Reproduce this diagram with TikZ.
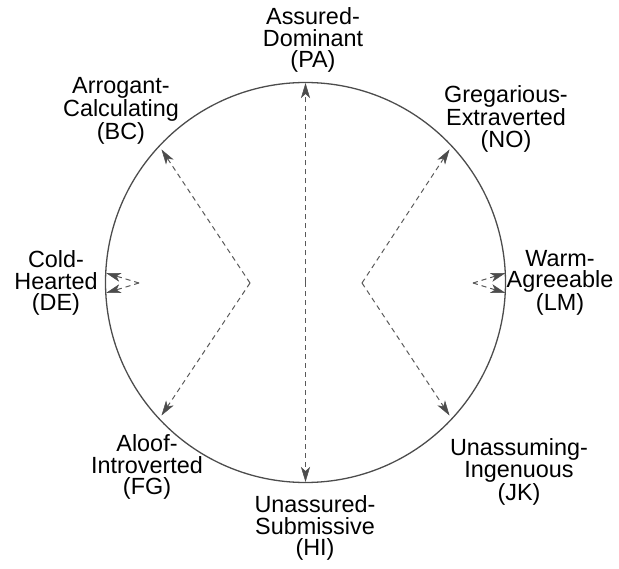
\documentclass[tikz,border=0pt]{standalone}
\usepackage{fontspec}
\setmainfont{Liberation Sans}
\usetikzlibrary{arrows.meta}
\begin{document}
\begin{tikzpicture}[x=1pt,y=-1pt,
	trait/.style={align=center,inner sep=0pt,font=\fontsize{23.4}{21.5}\selectfont},
	link/.style={draw=black!65,line width=1pt,dash pattern=on 5pt off 4pt,
		-{Stealth[length=15pt,width=9pt,inset=4pt,color=black!70,fill=black!70,line width=0.5pt]}}]
		\useasboundingbox (0,0) rectangle (619,569);
		\coordinate (o) at (305.5,282.5);
		\draw[black!70,line width=1.3pt] (o) circle[radius=200pt];
		\node[trait] (pa) at (313,40) {Assured-\\Dominant\\(PA)};
		\node[trait] (bc) at (121,111) {Arrogant-\\Calculating\\(BC)};
		\node[trait] (no) at (506,119) {Gregarious-\\Extraverted\\(NO)};
		\node[trait] (de) at (56,283) {Cold-\\Hearted\\(DE)};
		\node[trait] (lm) at (560,283) {Warm-\\Agreeable\\(LM)};
		\node[trait] (fg) at (147,467) {Aloof-\\Introverted\\(FG)};
		\node[trait] (jk) at (519,472) {Unassuming-\\Ingenuous\\(JK)};
		\node[trait] (hi) at (315,528) {Unassured-\\Submissive\\(HI)};
		\coordinate (top) at (305.5,83);
		\coordinate (bottom) at (305.5,482);
		\coordinate (lv) at (250,283);
		\coordinate (rv) at (362,283);
		\coordinate (ls) at (139,283);
		\coordinate (rs) at (473,283);
		\coordinate (bctip) at (161.5,149.5);
		\coordinate (fgtip) at (161.5,415.5);
		\coordinate (notip) at (449.5,149.5);
		\coordinate (jktip) at (449.5,415.5);
		\coordinate (deup) at (106,273);
		\coordinate (delow) at (106,293);
		\coordinate (lmup) at (505.5,273);
		\coordinate (lmlow) at (505.5,293);
		\draw[link] (o) -- (top);
		\draw[link] (o) -- (bottom);
		\draw[link] (lv) -- (bctip);
		\draw[link] (lv) -- (fgtip);
		\draw[link] (rv) -- (notip);
		\draw[link] (rv) -- (jktip);
		\draw[link] (ls) -- (deup);
		\draw[link] (ls) -- (delow);
		\draw[link] (rs) -- (lmup);
		\draw[link] (rs) -- (lmlow);
	\end{tikzpicture}
\end{document}
